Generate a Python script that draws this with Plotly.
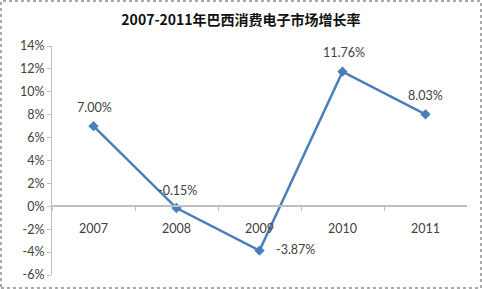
import plotly.graph_objects as go

years = ["2007", "2008", "2009", "2010", "2011"]
growth = [7.00, -0.15, -3.87, 11.76, 8.03]
labels = ["7.00%", "-0.15%", "-3.87%", "11.76%", "8.03%"]
ytick_vals = [-6, -4, -2, 0, 2, 4, 6, 8, 10, 12, 14]
ytick_text = [f"{v}%" for v in ytick_vals]

color = "#4a7ebb"
font_fam = "Lato, Open Sans, sans-serif"
txt_color = "#404040"
idx = list(range(len(years)))

fig = go.Figure()
# invisible trace that activates the label axis
fig.add_trace(go.Scatter(
    x=idx, y=growth, xaxis="x2", mode="markers", marker=dict(opacity=0),
    showlegend=False, hoverinfo="skip"))
fig.add_trace(go.Scatter(
    x=idx, y=growth, mode="lines+markers",
    line=dict(color=color, width=2.5),
    marker=dict(symbol="diamond", size=8, color=color),
    cliponaxis=False, showlegend=False, hoverinfo="skip"))

shifts = [(1, 19), (1, 18), (36, 1), (1, 19), (0, 19)]
for i, y, t, (dx, dy) in zip(idx, growth, labels, shifts):
    fig.add_annotation(x=i, y=y, xref="x", yref="y", text=t, showarrow=False,
                       xshift=dx, yshift=dy,
                       font=dict(family=font_fam, size=12.5, color=txt_color))

L, R, T, B = 52, 15, 46, 14
W, H = 482, 289
pw, ph = W - L - R, H - T - B
fig.add_shape(type="rect", xref="paper", yref="paper",
              x0=-(L - 1) / pw, x1=1 + (R - 1) / pw, y0=-(B - 1) / ph, y1=1 + (T - 1) / ph,
              line=dict(color="#555555", width=1, dash="dot"))

zero_pos = (0 - (-6)) / 20
fig.update_layout(
    width=W, height=H, margin=dict(l=L, r=R, t=T, b=B, autoexpand=False),
    paper_bgcolor="white", plot_bgcolor="white",
    title=dict(text="<b>2007-2011年巴西消费电子市场增长率</b>", x=0.5, xanchor="center",
               y=1 - 20 / H, yanchor="middle",
               font=dict(family="Noto Sans CJK SC", size=14, color="#111111")),
    xaxis=dict(anchor="free", position=zero_pos, showline=True, range=[-0.5, 4.5],
               linecolor="#bfbfbf", linewidth=1.5, ticks="outside", automargin=False,
               tickvals=[i + 0.5 for i in idx[:-1]] + [-0.5], ticklen=4, tickcolor="#bfbfbf",
               showticklabels=False, showgrid=False, zeroline=False),
    xaxis2=dict(overlaying="x", anchor="free", position=zero_pos - 13 / ph, side="bottom",
                range=[-0.5, 4.5], tickvals=idx, ticktext=years, showline=False, ticks="",
                showgrid=False, zeroline=False, automargin=False,
                tickfont=dict(family=font_fam, size=12.5, color=txt_color)),
    yaxis=dict(range=[-6, 14], tickvals=ytick_vals, ticktext=ytick_text, showline=True,
               linecolor="#bfbfbf", linewidth=1, ticks="outside", ticklen=4, tickcolor="#bfbfbf",
               showgrid=False, zeroline=False, automargin=False,
               tickfont=dict(family=font_fam, size=12.5, color=txt_color)),
)
fig.write_html("out.html")
